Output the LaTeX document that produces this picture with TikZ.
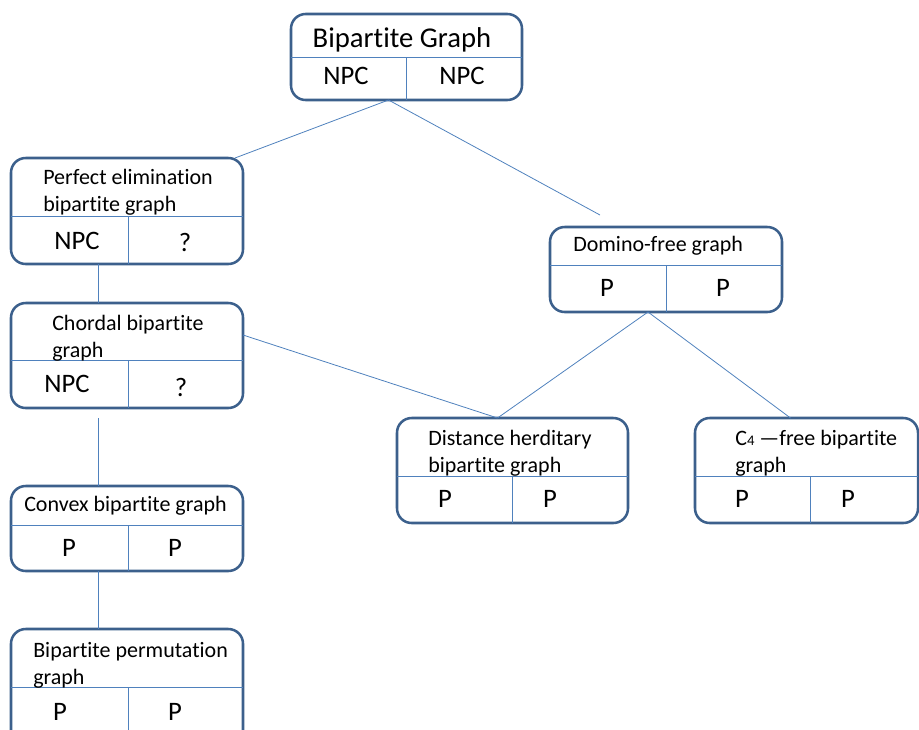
\documentclass[tikz,border=0pt]{standalone}
\usepackage{fontspec}
\setmainfont{Carlito}[Ligatures=NoCommon]
\usetikzlibrary{fit,calc}
\definecolor{boxline}{RGB}{60,96,140}
\definecolor{linkline}{RGB}{79,129,189}
% box from its two corners, in pixels of the sheet
\newcommand{\gbox}[5]{%
  \coordinate (#1-nw) at (#2,#3);
  \coordinate (#1-se) at (#4,#5);
  \node[box, fit=(#1-nw)(#1-se)] (#1) {};}

\begin{document}
\begin{tikzpicture}[x=0.75pt, y=-0.75pt,
  box/.style={draw=boxline, line width=1.9pt, rounded corners=11pt, inner sep=0pt, outer sep=0pt},
  sep/.style={draw=linkline, line width=0.6pt},
  link/.style={draw=linkline, line width=0.6pt},
  head/.style={anchor=west, align=left, inner sep=0pt, font=\fontsize{16.5}{20}\selectfont},
  cell/.style={inner sep=0pt, font=\fontsize{20}{20}\selectfont},
]
  \useasboundingbox (0,0) rectangle (919,729);

  % boxes
  \gbox{bg}{291}{14}{522}{100}
  \gbox{peb}{11}{158}{243}{264}
  \gbox{dom}{550}{227}{782}{312}
  \gbox{chb}{11}{303}{243}{408}
  \gbox{dhb}{397}{418}{628}{523}
  \gbox{cfb}{695}{418}{918}{523}
  \gbox{cvx}{11}{486}{243}{571}
  \gbox{bpm}{11}{629}{243}{745}

  % dividers
  \draw[sep] (291,57) -- (522,57);   \draw[sep] (406,57) -- (406,100);
  \draw[sep] (11,216) -- (243,216);  \draw[sep] (128,216) -- (128,264);
  \draw[sep] (550,265) -- (782,265); \draw[sep] (666,265) -- (666,312);
  \draw[sep] (11,360) -- (243,360);  \draw[sep] (128,360) -- (128,408);
  \draw[sep] (397,476) -- (628,476); \draw[sep] (512,476) -- (512,523);
  \draw[sep] (695,476) -- (918,476); \draw[sep] (810,476) -- (810,523);
  \draw[sep] (11,525) -- (243,525);  \draw[sep] (128,525) -- (128,571);
  \draw[sep] (11,687) -- (243,687);  \draw[sep] (128,687) -- (128,745);

  % titles
  \node[inner sep=0pt, font=\fontsize{21.5}{21.5}\selectfont] (bgt) at (402,40) {Bipartite Graph};
  \node[head] (pet) at (43,192) {Perfect elimination\\bipartite graph};
  \node[head] (domt) at (573,246) {Domino-free graph};
  \node[head] (cht) at (52,338) {Chordal bipartite\\graph};
  \node[head] (dht) at (428,453) {Distance herditary\\bipartite graph};
  \node[head] (cft) at (735,453) {C{\fontsize{11}{11}\selectfont 4} —free bipartite\\graph};
  \node[head] (cvt) at (24,506) {Convex bipartite graph};
  \node[head] (bpt) at (33,665) {Bipartite permutation\\graph};

  % complexity cells
  \node[cell] (bg1) at (346,76) {NPC};  \node[cell] (bg2) at (462,76) {NPC};
  \node[cell] (pe1) at (77,241) {NPC};  \node[cell] (pe2) at (185,242) {?};
  \node[cell] (do1) at (607,288) {P};   \node[cell] (do2) at (723,288) {P};
  \node[cell] (ch1) at (67,384) {NPC};  \node[cell] (ch2) at (181,387) {?};
  \node[cell] (dh1) at (445,499) {P};   \node[cell] (dh2) at (550,499) {P};
  \node[cell] (cf1) at (742,499) {P};   \node[cell] (cf2) at (848,499) {P};
  \node[cell] (cv1) at (69,548) {P};    \node[cell] (cv2) at (175,548) {P};
  \node[cell] (bp1) at (60,712) {P};    \node[cell] (bp2) at (175,712) {P};

  % connectors
  \coordinate (domtip) at (600,215);
  \coordinate (chtail) at (98,418);
  \draw[link] ($(bg.south)+(-18,0)$) -- ($(peb.north east)+(-8,0)$);
  \draw[link] ($(bg.south)+(-18,0)$) -- (domtip);
  \draw[link] ($(peb.south west)+(87,0)$) -- ($(chb.north west)+(87,0)$);
  \draw[link] ($(chb.north east)+(0,32)$) -- ($(dhb.north)+(-15,0)$);
  \draw[link] ($(dom.south)+(-18,0)$) -- ($(dhb.north)+(-15,0)$);
  \draw[link] ($(dom.south)+(-18,0)$) -- ($(cfb.north)+(-16,0)$);
  \draw[link] (chtail) -- ($(cvx.north west)+(87,0)$);
  \draw[link] ($(cvx.south west)+(87,0)$) -- ($(bpm.north west)+(87,0)$);
\end{tikzpicture}
\end{document}
